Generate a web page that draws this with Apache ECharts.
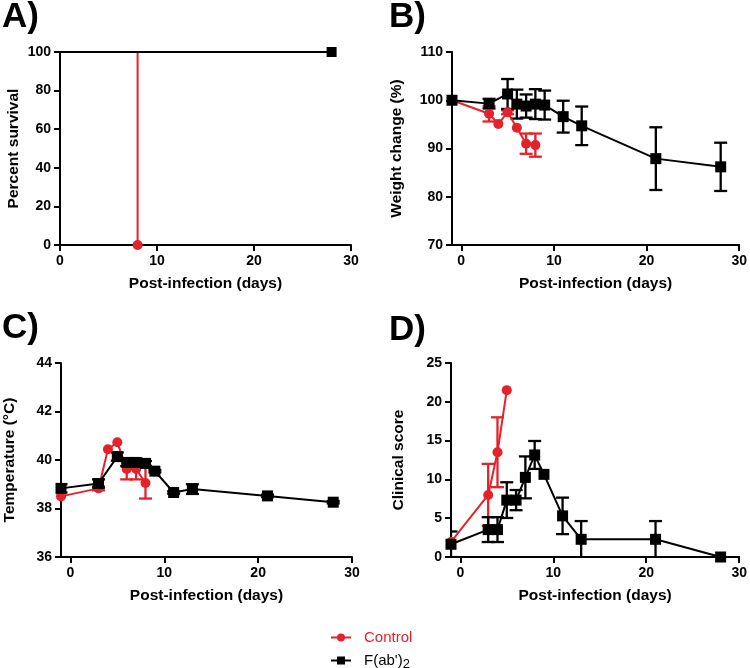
<!DOCTYPE html>
<html>
<head>
<meta charset="utf-8">
<script src="https://cdn.jsdelivr.net/npm/echarts@6/dist/echarts.min.js"></script>
<style>
html,body{margin:0;padding:0;background:#fff;}
#chart{width:750px;height:668px;}
</style>
</head>
<body>
<div id="chart"></div>
<script>
// ---------- DATA ----------
const seriesNames = ['Control', "F(ab')2"];
const xTickValues = [0, 10, 20, 30];

// A) survival
const survDaysControl = [0, 8, 8];
const survControl = [100, 100, 0];
const survDaysFab = [0, 28];
const survFab = [100, 100];

// B) weight change
const weightDaysControl = [-1, 3, 4, 5, 6, 7, 8];
const weightControl = [100, 97.2, 95.1, 97.5, 94.3, 91.0, 90.7];
const weightErrControl = [0, 1.6, 0, 0.4, 0, 2.1, 2.4];
const weightDaysFab = [-1, 3, 5, 6, 7, 8, 9, 11, 13, 21, 28];
const weightFab = [100, 99.3, 101.3, 99.2, 98.8, 99.2, 99.0, 96.6, 94.7, 87.9, 86.2];
const weightErrFab = [0, 1.0, 3.1, 3.0, 2.4, 3.1, 3.0, 3.3, 4.0, 6.5, 5.0];

// C) temperature
const tempDaysControl = [-1, 3, 4, 5, 6, 7, 8];
const tempControl = [38.5, 38.83, 40.44, 40.73, 39.63, 39.63, 39.05];
const tempErrControl = [0, 0.08, 0, 0, 0.43, 0.43, 0.64];
const tempDaysFab = [-1, 3, 5, 6, 7, 8, 9, 11, 13, 21, 28];
const tempFab = [38.83, 39.03, 40.14, 39.9, 39.9, 39.86, 39.54, 38.66, 38.8, 38.52, 38.26];
const tempErrFab = [0.17, 0.17, 0.17, 0.15, 0.15, 0.1, 0.05, 0.05, 0.2, 0.05, 0.05];

// D) clinical score
const scoreDaysControl = [-1, 3, 4, 5];
const scoreControl = [1.94, 8, 13.5, 21.5];
const scoreErrControl = [0, 4, 4.5, 0];
const scoreDaysFab = [-1, 3, 4, 5, 6, 7, 8, 9, 11, 13, 21, 28];
const scoreFab = [1.64, 3.53, 3.53, 7.33, 7.33, 10.26, 13.15, 10.65, 5.3, 2.28, 2.28, 0];
const scoreErrFab = [1.65, 1.6, 1.6, 2.3, 1.3, 2.7, 1.8, 0, 2.35, 2.35, 2.35, 0];

// ---------- STYLE ----------
const RED = '#e4222a';
const BLACK = '#000000';
const FONT = '"Liberation Sans", Arial, Helvetica, sans-serif';

function errRender(color) {
  return function (params, api) {
    const x = api.value(0), lo = api.value(1), hi = api.value(2);
    const p1 = api.coord([x, hi]);
    const p2 = api.coord([x, lo]);
    const hw = 6.5;
    const st = { stroke: color, lineWidth: 2.3 };
    return {
      type: 'group',
      children: [
        { type: 'line', shape: { x1: p1[0], y1: p1[1], x2: p2[0], y2: p2[1] }, style: st },
        { type: 'line', shape: { x1: p1[0] - hw, y1: p1[1], x2: p1[0] + hw, y2: p1[1] }, style: st },
        { type: 'line', shape: { x1: p2[0] - hw, y1: p2[1], x2: p2[0] + hw, y2: p2[1] }, style: st }
      ]
    };
  };
}

function pts(days, vals) { return days.map((d, i) => [d, vals[i]]); }
function errPts(days, vals, errs) {
  const out = [];
  days.forEach((d, i) => { if (errs[i] > 0) out.push([d, vals[i] - errs[i], vals[i] + errs[i]]); });
  return out;
}

function group(idx, days, vals, errs, color, name, symbol, size) {
  const list = [];
  if (errs) {
    list.push({
      type: 'custom', name: name + '_err', xAxisIndex: idx, yAxisIndex: idx,
      renderItem: errRender(color), clip: true,
      encode: { x: 0, y: [1, 2] },
      data: errPts(days, vals, errs), silent: true
    });
  }
  list.push({
    type: 'line', name: name, xAxisIndex: idx, yAxisIndex: idx,
    data: pts(days, vals), symbol: symbol, symbolSize: size, showSymbol: true,
    lineStyle: { color: color, width: 2 }, itemStyle: { color: color },
    animation: false, silent: true
  });
  return list;
}

const axisLine = { show: true, onZero: false, lineStyle: { color: BLACK, width: 2 } };
const axisTick = { show: true, length: 6, lineStyle: { color: BLACK, width: 2 } };
const labelStyle = { color: BLACK, fontSize: 14, fontWeight: 'bold', fontFamily: FONT, margin: 9 };
const nameStyle = { color: BLACK, fontSize: 15.5, fontWeight: 'bold', fontFamily: FONT };

const grids = [
  { left: 60, top: 52, width: 291, height: 193 },
  { left: 452, top: 52, width: 291, height: 193 },
  { left: 61, top: 363, width: 291, height: 194 },
  { left: 451, top: 363, width: 291, height: 194 }
];

function xAx(idx, min) {
  const ax = {
    type: 'value', gridIndex: idx, min: min, max: 30,
    name: 'Post-infection (days)', nameLocation: 'middle', nameGap: 31, nameTextStyle: nameStyle,
    axisLine: axisLine, splitLine: { show: false },
    axisTick: Object.assign({}, axisTick),
    axisLabel: Object.assign({}, labelStyle)
  };
  if (min === 0) {
    ax.interval = 10;
  } else {
    ax.axisTick.customValues = xTickValues;
    ax.axisLabel.customValues = xTickValues;
  }
  return ax;
}
function yAx(idx, min, max, interval, name, gap) {
  return {
    type: 'value', gridIndex: idx, min: min, max: max, interval: interval,
    name: name, nameLocation: 'middle', nameGap: gap, nameTextStyle: nameStyle,
    axisLine: axisLine, splitLine: { show: false }, axisTick: axisTick,
    axisLabel: Object.assign({}, labelStyle)
  };
}

// survival series (symbol only at end points)
function survSeries(idx, days, vals, color, name, symbol, size) {
  return {
    type: 'line', name: name, xAxisIndex: idx, yAxisIndex: idx,
    data: days.map((d, i) => ({ value: [d, vals[i]], symbol: i === days.length - 1 ? symbol : 'none' })),
    symbol: symbol, symbolSize: size, showSymbol: true,
    lineStyle: { color: color, width: 2 }, itemStyle: { color: color },
    animation: false, silent: true
  };
}

const series = [].concat(
  [survSeries(0, survDaysControl, survControl, RED, seriesNames[0], 'circle', 10)],
  [survSeries(0, survDaysFab, survFab, BLACK, seriesNames[1], 'rect', 10)],
  group(1, weightDaysControl, weightControl, weightErrControl, RED, seriesNames[0], 'circle', 10),
  group(1, weightDaysFab, weightFab, weightErrFab, BLACK, seriesNames[1], 'rect', 11),
  group(2, tempDaysControl, tempControl, tempErrControl, RED, seriesNames[0], 'circle', 10),
  group(2, tempDaysFab, tempFab, tempErrFab, BLACK, seriesNames[1], 'rect', 11),
  group(3, scoreDaysControl, scoreControl, scoreErrControl, RED, seriesNames[0], 'circle', 10),
  group(3, scoreDaysFab, scoreFab, scoreErrFab, BLACK, seriesNames[1], 'rect', 11)
);

const titleStyle = { color: BLACK, fontSize: 35, fontWeight: 'bold', fontFamily: FONT };

const legendText = {
  fontSize: 15, fontFamily: FONT, color: BLACK, padding: [0, 0, 0, 8],
  rich: { sub: { fontSize: 13, fontFamily: FONT, color: BLACK, padding: [7, 0, 0, 0] } }
};
function legendFor(name, top, color) {
  return {
    orient: 'vertical', left: 330, top: top, itemWidth: 20, itemHeight: 10,
    padding: 0, selectedMode: false,
    data: [{ name: name, textStyle: { color: color } }],
    formatter: function (n) { return n === seriesNames[1] ? "F(ab')" + '{sub|2}' : n; },
    textStyle: legendText
  };
}

const option = {
  animation: false,
  backgroundColor: '#ffffff',
  title: [
    { text: 'A)', left: 2, top: 0, padding: 0, textStyle: titleStyle },
    { text: 'B)', left: 389, top: 0, padding: 0, textStyle: titleStyle },
    { text: 'C)', left: 2, top: 311, padding: 0, textStyle: titleStyle },
    { text: 'D)', left: 389, top: 313, padding: 0, textStyle: titleStyle }
  ],
  grid: grids,
  xAxis: [xAx(0, 0), xAx(1, -1), xAx(2, -1), xAx(3, -1)],
  yAxis: [
    yAx(0, 0, 100, 20, 'Percent survival', 38),
    yAx(1, 70, 110, 10, 'Weight change (%)', 47),
    yAx(2, 36, 44, 2, 'Temperature (\u00b0C)', 43),
    yAx(3, 0, 25, 5, 'Clinical score', 44)
  ],
  legend: [
    legendFor(seriesNames[0], 630, RED),
    legendFor(seriesNames[1], 653, BLACK)
  ],
  series: series
};

const chart = echarts.init(document.getElementById('chart'), null, { renderer: 'canvas' });
chart.setOption(option);
</script>
</body>
</html>
